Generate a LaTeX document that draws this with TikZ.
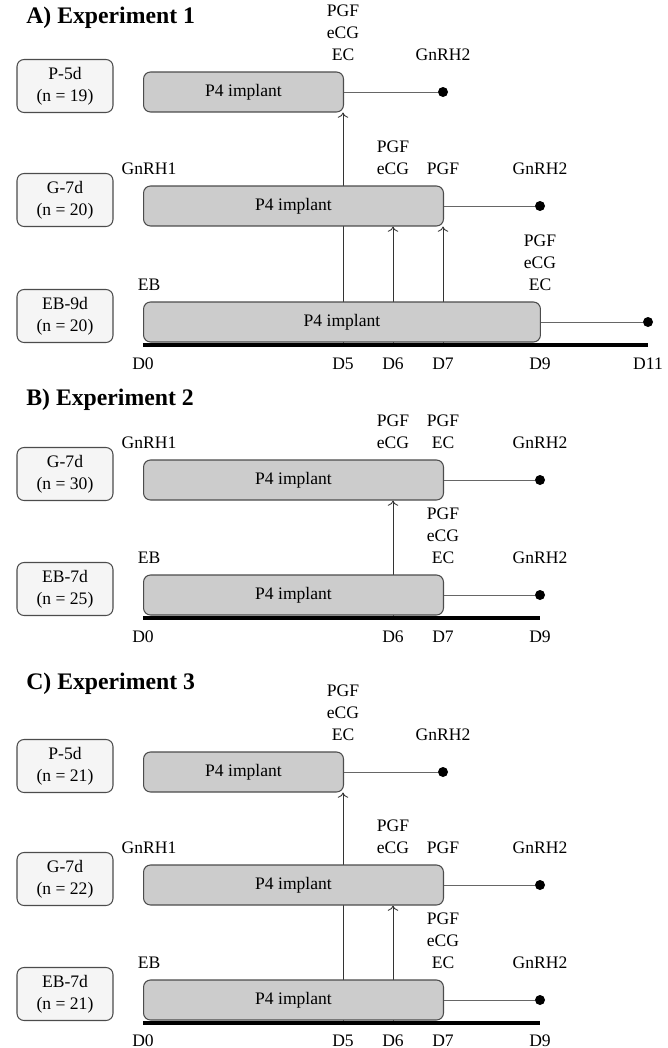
\documentclass[tikz,border=0pt]{standalone}
\usepackage{fontspec}
\setmainfont{Liberation Serif}
\usetikzlibrary{positioning, calc, arrows.meta}
\pgfdeclarelayer{bg}
\pgfsetlayers{bg,main}

\tikzset{
  grp/.style={draw=black!70, fill=black!4, rounded corners=4pt, line width=0.6pt, minimum width=1.92cm, minimum height=1.06cm, align=center, inner sep=1pt},
  implant/.style={draw=black!70, fill=black!20, rounded corners=4pt, line width=0.6pt, minimum height=0.8cm, anchor=west, inner sep=0pt},
  trt/.style={align=center, anchor=south, inner sep=0pt},
  dot/.style={circle, fill=black, inner sep=0pt, minimum size=0.2cm},
  hold/.style={draw=black!60, line width=0.5pt},
  inj/.style={-{To[length=3pt,width=6pt]}, draw=black!80, line width=0.5pt},
  axis/.style={line width=2.2pt},
  day/.style={inner sep=0pt},
  ttl/.style={anchor=west, inner sep=0pt, font=\fontsize{13.5}{16}\selectfont\bfseries},
}

\begin{document}
\begin{tikzpicture}[x=0.02cm, y=-0.02cm, font=\fontsize{10}{12.4}\selectfont]
  \useasboundingbox (0,0) rectangle (667,1048);

  % A) Experiment 1
  \node[ttl] (ttlA) at (26,18) {A) Experiment 1};
  \node[grp] (gA1) at (65,86) {P-5d\\(n = 19)};
  \node[grp] (gA2) at (65,200) {G-7d\\(n = 20)};
  \node[grp] (gA3) at (65,316) {EB-9d\\(n = 20)};
  \node[implant, minimum width=4cm] (pA1) at (143,92) {P4 implant};
  \node[implant, minimum width=6cm] (pA2) at (143,206) {P4 implant};
  \node[implant, minimum width=7.94cm] (pA3) at (143,322) {P4 implant};
  \node[dot] (dA1) at (443,92) {};
  \node[dot] (dA2) at (540,206) {};
  \node[dot] (dA3) at (648,322) {};
  \draw[hold] (pA1.east) -- (dA1);
  \draw[hold] (pA2.east) -- (dA2);
  \draw[hold] (pA3.east) -- (dA3);
  \node[trt] (tA1) at (343,61) {PGF\\eCG\\EC};
  \node[trt] (tA2) at (443,61) {GnRH2};
  \node[trt] (tA3) at (149,175) {GnRH1};
  \node[trt] (tA4) at (393,175) {PGF\\eCG};
  \node[trt] (tA5) at (443,175) {PGF};
  \node[trt] (tA6) at (540,175) {GnRH2};
  \node[trt] (tA7) at (149,291) {EB};
  \node[trt] (tA8) at (540,291) {PGF\\eCG\\EC};
  \coordinate (aA0) at (143,345);
  \coordinate (aA5) at (343,345);
  \coordinate (aA6) at (393,345);
  \coordinate (aA7) at (443,345);
  \coordinate (aA11) at (648,345);
  \draw[axis] (aA0) -- (aA11);
  \begin{pgfonlayer}{bg}
    \draw[inj] (aA5) -- (aA5 |- pA1.south);
    \draw[inj] (aA6) -- (aA6 |- pA2.south);
    \draw[inj] (aA7) -- (aA7 |- pA2.south);
  \end{pgfonlayer}
  \node[day] (xA0) at (143,364) {D0};
  \node[day] (xA5) at (343,364) {D5};
  \node[day] (xA6) at (393,364) {D6};
  \node[day] (xA7) at (443,364) {D7};
  \node[day] (xA9) at (540,364) {D9};
  \node[day] (xA11) at (648,364) {D11};

  % B) Experiment 2
  \node[ttl] (ttlB) at (26,400) {B) Experiment 2};
  \node[grp] (gB1) at (65,474) {G-7d\\(n = 30)};
  \node[grp] (gB2) at (65,589) {EB-7d\\(n = 25)};
  \node[implant, minimum width=6cm] (pB1) at (143,480) {P4 implant};
  \node[implant, minimum width=6cm] (pB2) at (143,595) {P4 implant};
  \node[dot] (dB1) at (540,480) {};
  \node[dot] (dB2) at (540,595) {};
  \draw[hold] (pB1.east) -- (dB1);
  \draw[hold] (pB2.east) -- (dB2);
  \node[trt] (tB1) at (149,449) {GnRH1};
  \node[trt] (tB2) at (393,449) {PGF\\eCG};
  \node[trt] (tB3) at (443,449) {PGF\\EC};
  \node[trt] (tB4) at (540,449) {GnRH2};
  \node[trt] (tB5) at (149,564) {EB};
  \node[trt] (tB6) at (443,564) {PGF\\eCG\\EC};
  \node[trt] (tB7) at (540,564) {GnRH2};
  \coordinate (aB0) at (143,618);
  \coordinate (aB6) at (393,618);
  \coordinate (aB9) at (540,618);
  \draw[axis] (aB0) -- (aB9);
  \begin{pgfonlayer}{bg}
    \draw[inj] (aB6) -- (aB6 |- pB1.south);
  \end{pgfonlayer}
  \node[day] (xB0) at (143,637) {D0};
  \node[day] (xB6) at (393,637) {D6};
  \node[day] (xB7) at (443,637) {D7};
  \node[day] (xB9) at (540,637) {D9};

  % C) Experiment 3
  \node[ttl] (ttlC) at (26,684) {C) Experiment 3};
  \node[grp] (gC1) at (65,766) {P-5d\\(n = 21)};
  \node[grp] (gC2) at (65,879) {G-7d\\(n = 22)};
  \node[grp] (gC3) at (65,994) {EB-7d\\(n = 21)};
  \node[implant, minimum width=4cm] (pC1) at (143,772) {P4 implant};
  \node[implant, minimum width=6cm] (pC2) at (143,885) {P4 implant};
  \node[implant, minimum width=6cm] (pC3) at (143,1000) {P4 implant};
  \node[dot] (dC1) at (443,772) {};
  \node[dot] (dC2) at (540,885) {};
  \node[dot] (dC3) at (540,1000) {};
  \draw[hold] (pC1.east) -- (dC1);
  \draw[hold] (pC2.east) -- (dC2);
  \draw[hold] (pC3.east) -- (dC3);
  \node[trt] (tC1) at (343,741) {PGF\\eCG\\EC};
  \node[trt] (tC2) at (443,741) {GnRH2};
  \node[trt] (tC3) at (149,854) {GnRH1};
  \node[trt] (tC4) at (393,854) {PGF\\eCG};
  \node[trt] (tC5) at (443,854) {PGF};
  \node[trt] (tC6) at (540,854) {GnRH2};
  \node[trt] (tC7) at (149,969) {EB};
  \node[trt] (tC8) at (443,969) {PGF\\eCG\\EC};
  \node[trt] (tC9) at (540,969) {GnRH2};
  \coordinate (aC0) at (143,1023);
  \coordinate (aC5) at (343,1023);
  \coordinate (aC6) at (393,1023);
  \coordinate (aC9) at (540,1023);
  \draw[axis] (aC0) -- (aC9);
  \begin{pgfonlayer}{bg}
    \draw[inj] (aC5) -- (aC5 |- pC1.south);
    \draw[inj] (aC6) -- (aC6 |- pC2.south);
  \end{pgfonlayer}
  \node[day] (xC0) at (143,1041) {D0};
  \node[day] (xC5) at (343,1041) {D5};
  \node[day] (xC6) at (393,1041) {D6};
  \node[day] (xC7) at (443,1041) {D7};
  \node[day] (xC9) at (540,1041) {D9};
\end{tikzpicture}
\end{document}
